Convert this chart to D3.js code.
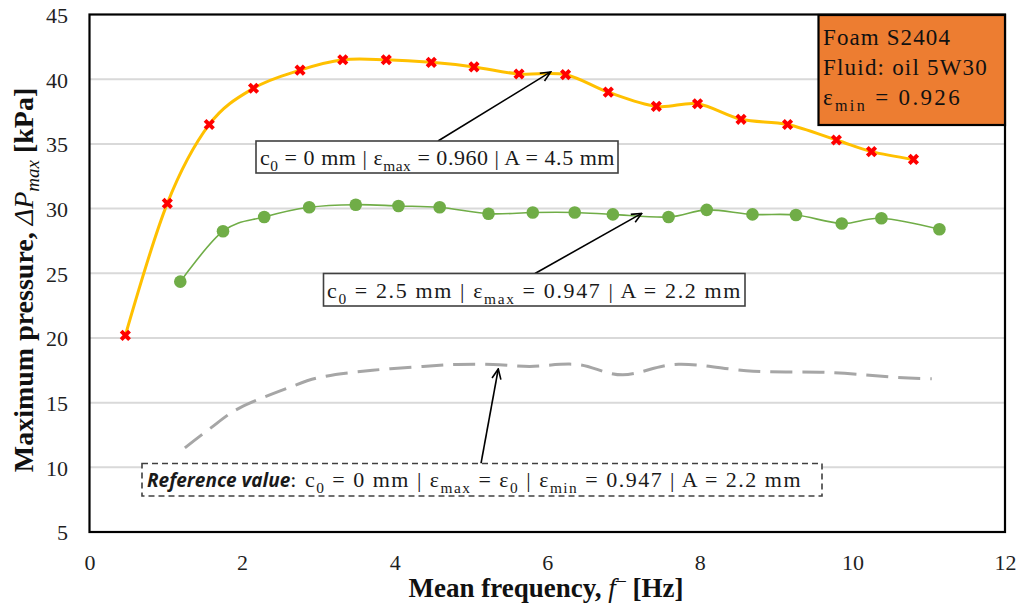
<!DOCTYPE html>
<html>
<head>
<meta charset="utf-8">
<script src="https://cdn.jsdelivr.net/npm/d3@7"></script>
<style>
  html, body { margin: 0; padding: 0; background: #fff; }
  svg { display: block; }
</style>
</head>
<body>
<svg id="chart" width="1023" height="605"></svg>
<script>
// Mean frequency [Hz] and maximum pressure [kPa] per test series
const seriesA_freq = [0.47, 1.02, 1.57, 2.15, 2.76, 3.32, 3.89, 4.48, 5.04, 5.63, 6.24, 6.80, 7.43, 7.97, 8.54, 9.15, 9.79, 10.25, 10.80];
const seriesA_dp   = [20.2, 30.4, 36.5, 39.3, 40.7, 41.5, 41.5, 41.3, 40.95, 40.4, 40.35, 39.0, 37.9, 38.1, 36.9, 36.5, 35.3, 34.4, 33.8];

const seriesB_freq = [1.19, 1.75, 2.29, 2.88, 3.49, 4.05, 4.59, 5.23, 5.81, 6.36, 6.86, 7.59, 8.09, 8.69, 9.26, 9.86, 10.38, 11.14];
const seriesB_dp   = [24.35, 28.25, 29.35, 30.1, 30.3, 30.2, 30.1, 29.6, 29.7, 29.7, 29.55, 29.35, 29.9, 29.55, 29.5, 28.85, 29.25, 28.4];

const refFreq = [1.25, 1.58, 1.97, 2.63, 3.06, 3.71, 4.37, 4.82, 5.29, 5.77, 6.39, 6.99, 7.72, 8.70, 9.70, 10.58, 11.04];
const refDp   = [11.5, 13.0, 14.6, 16.2, 17.0, 17.5, 17.8, 17.95, 17.95, 17.8, 17.95, 17.15, 17.97, 17.43, 17.33, 16.95, 16.85];

const xTicks = [0, 2, 4, 6, 8, 10, 12];
const yTicks = [5, 10, 15, 20, 25, 30, 35, 40, 45];

// Arrow targets in data units (frequency, pressure)
const arrowTips = [[6.045, 40.56], [7.238, 29.63], [5.358, 17.6]];

const svg = d3.select("#chart");
const serif = "'Liberation Serif', 'Times New Roman', serif";

const plot = { left: 89.5, right: 1005, top: 14.5, bottom: 532 };
const x = d3.scaleLinear().domain([0, 12]).range([plot.left, plot.right]);
const y = d3.scaleLinear().domain([5, 45]).range([plot.bottom, plot.top]);

// horizontal gridlines
svg.append("g")
  .selectAll("line")
  .data(yTicks.filter(v => v > 5 && v < 45))
  .join("line")
  .attr("x1", plot.left).attr("x2", plot.right)
  .attr("y1", d => y(d)).attr("y2", d => y(d))
  .attr("stroke", "#d9d9d9").attr("stroke-width", 2);

// axes (labels only, no tick marks)
const xAxis = d3.axisBottom(x).tickValues(xTicks).tickSize(0).tickPadding(0).tickFormat(d3.format("d"));
const yAxis = d3.axisLeft(y).tickValues(yTicks).tickSize(0).tickPadding(0).tickFormat(d3.format("d"));

const gx = svg.append("g").attr("transform", `translate(0,${plot.bottom})`).call(xAxis);
gx.select(".domain").remove();
gx.selectAll("text").attr("y", 38).attr("dy", 0)
  .style("font-family", serif).style("font-size", "22px").attr("fill", "#1f1f1f");

const gy = svg.append("g").attr("transform", `translate(68,0)`).call(yAxis);
gy.select(".domain").remove();
gy.selectAll("text").attr("x", 0).attr("dy", "0.36em")
  .style("font-family", serif).style("font-size", "22px").attr("fill", "#1f1f1f");

// reference curve (dashed)
const smooth = d3.curveCardinal.tension(0);
const line = d3.line().x(d => x(d[0])).y(d => y(d[1])).curve(smooth);

svg.append("path")
  .datum(d3.zip(refFreq, refDp))
  .attr("d", line)
  .attr("fill", "none").attr("stroke", "#a6a6a6").attr("stroke-width", 3)
  .attr("stroke-dasharray", "22,10");

// series B (green)
svg.append("path")
  .datum(d3.zip(seriesB_freq, seriesB_dp))
  .attr("d", line)
  .attr("fill", "none").attr("stroke", "#70ad47").attr("stroke-width", 1.6);
svg.append("g").selectAll("circle")
  .data(d3.zip(seriesB_freq, seriesB_dp))
  .join("circle")
  .attr("cx", d => x(d[0])).attr("cy", d => y(d[1])).attr("r", 6.3)
  .attr("fill", "#70ad47");

// series A (yellow with red crosses)
svg.append("path")
  .datum(d3.zip(seriesA_freq, seriesA_dp))
  .attr("d", line)
  .attr("fill", "none").attr("stroke", "#ffc000").attr("stroke-width", 3);
const cross = d3.symbol().type(d3.symbolCross).size(78);
svg.append("g").selectAll("path")
  .data(d3.zip(seriesA_freq, seriesA_dp))
  .join("path")
  .attr("d", cross)
  .attr("transform", d => `translate(${x(d[0])},${y(d[1])}) rotate(45)`)
  .attr("fill", "#ff0000");

// plot frame
svg.append("rect")
  .attr("x", plot.left).attr("y", plot.top)
  .attr("width", plot.right - plot.left).attr("height", plot.bottom - plot.top)
  .attr("fill", "none").attr("stroke", "#000").attr("stroke-width", 2.2);

// arrowhead marker
svg.append("defs").append("marker")
  .attr("id", "arrow").attr("viewBox", "0 0 12 12")
  .attr("refX", 11).attr("refY", 6)
  .attr("markerWidth", 12).attr("markerHeight", 12)
  .attr("markerUnits", "userSpaceOnUse")
  .attr("orient", "auto")
  .append("path").attr("d", "M1,1.5 L11,6 L1,10.5")
  .attr("fill", "none").attr("stroke", "#000").attr("stroke-width", 1.6);

// rich text helper: segments with optional subscript and font styling
function richText(g, px, py, segs, size, opts = {}) {
  const t = g.append("text").attr("x", px).attr("y", py)
    .style("font-family", serif).style("font-size", size + "px")
    .attr("fill", opts.fill || "#1a1a1a");
  let shifted = false;
  segs.forEach(s => {
    const ts = t.append("tspan").text(s.t);
    let dy = 0;
    if (s.sub && !shifted) { dy = size * 0.28; shifted = true; }
    else if (!s.sub && shifted) { dy = -size * 0.28; shifted = false; }
    if (dy) ts.attr("dy", dy);
    if (s.sub) ts.style("font-size", (size * 0.7) + "px");
    if (s.bold) ts.style("font-weight", "bold");
    if (s.italic) ts.style("font-style", "italic");
    if (s.family) ts.style("font-family", s.family);
    if (s.size) ts.style("font-size", s.size + "px");
    if (s.fit !== false) ts.classed("fit", true);
  });
  if (opts.width) {
    const fits = t.selectAll("tspan.fit");
    const n = d3.sum(fits.nodes(), nd => nd.textContent.length);
    const w = t.node().getComputedTextLength();
    fits.attr("letter-spacing", Math.max(-1, (opts.width - w) / n));
  }
  return t;
}

// annotation callouts
const callouts = [
  { box: [256, 141, 362, 32], text: [260, 165], width: 355, tail: [438, 141], dashed: false,
    segs: [{t:"c"},{t:"0",sub:true},{t:" = 0 mm | ε"},{t:"max",sub:true},{t:" = 0.960 | A = 4.5 mm"}] },
  { box: [323.5, 273.5, 421.5, 32.5], text: [327, 298], width: 415, tail: [535, 273.5], dashed: false,
    segs: [{t:"c"},{t:"0",sub:true},{t:" = 2.5 mm | ε"},{t:"max",sub:true},{t:" = 0.947 | A = 2.2 mm"}] },
  { box: [142, 463.5, 680, 32.5], text: [147, 487], width: 655, tail: [481, 463.5], dashed: true,
    segs: [{t:"Reference value", bold:true, italic:true, family:"'Open Sans', sans-serif", size:19, fit:false},
           {t:": c"},{t:"0",sub:true},{t:" = 0 mm | ε"},{t:"max",sub:true},{t:" = ε"},{t:"0",sub:true},
           {t:" | ε"},{t:"min",sub:true},{t:" = 0.947 | A = 2.2 mm"}] }
];

callouts.forEach((c, i) => {
  const g = svg.append("g");
  const tip = arrowTips[i];
  g.append("line")
    .attr("x1", c.tail[0]).attr("y1", c.tail[1])
    .attr("x2", x(tip[0])).attr("y2", y(tip[1]))
    .attr("stroke", "#000").attr("stroke-width", 1.6)
    .attr("marker-end", "url(#arrow)");
  g.append("rect")
    .attr("x", c.box[0]).attr("y", c.box[1]).attr("width", c.box[2]).attr("height", c.box[3])
    .attr("fill", "#fff").attr("stroke", "#404040").attr("stroke-width", 1.6)
    .attr("stroke-dasharray", c.dashed ? "6,4" : null);
  richText(g, c.text[0], c.text[1], c.segs, 22, { width: c.width });
});

// info box
const info = svg.append("g");
info.append("rect")
  .attr("x", 818.5).attr("y", 15).attr("width", 186.5).attr("height", 110)
  .attr("fill", "#ed7d31").attr("stroke", "#000").attr("stroke-width", 2.2);
richText(info, 823, 45, [{t:"Foam S2404"}], 23, { width: 128, fill: "#111" });
richText(info, 823, 75, [{t:"Fluid: oil 5W30"}], 23, { width: 165, fill: "#111" });
richText(info, 823, 105, [{t:"ε"},{t:"min",sub:true},{t:" = 0.926"}], 23, { width: 139, fill: "#111" });

// axis titles
const xt = svg.append("text")
  .attr("x", 546).attr("y", 597).attr("text-anchor", "middle")
  .style("font-family", serif).style("font-size", "27px").style("font-weight", "bold")
  .attr("fill", "#111");
xt.append("tspan").text("Mean frequency, ");
xt.append("tspan").text("f").style("font-style", "italic").style("font-weight", "normal");
xt.append("tspan").text("¯").style("font-weight", "normal").style("font-size", "20px");
xt.append("tspan").text(" [Hz]");

const yt = svg.append("text")
  .attr("transform", "translate(33,280) rotate(-90)")
  .attr("text-anchor", "middle")
  .style("font-family", serif).style("font-size", "28px").style("font-weight", "bold")
  .attr("fill", "#111");
yt.append("tspan").text("Maximum pressure, ");
yt.append("tspan").text("ΔP").style("font-style", "italic").style("font-weight", "normal");
yt.append("tspan").text("max").attr("dy", 6).style("font-style", "italic").style("font-weight", "normal").style("font-size", "19px");
yt.append("tspan").text(" [kPa]").attr("dy", -6);
</script>
</body>
</html>
